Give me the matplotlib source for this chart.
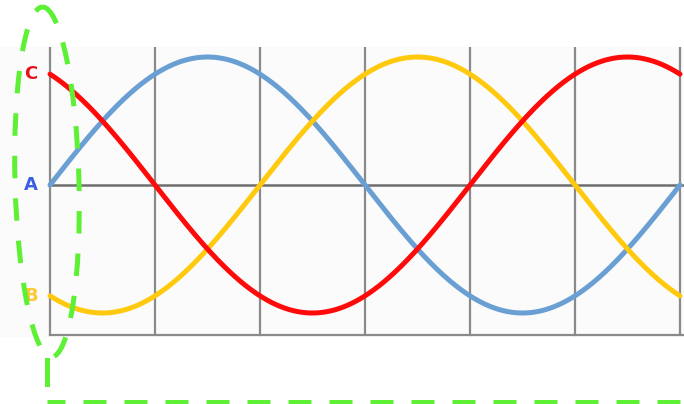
import numpy as np
import matplotlib
matplotlib.use("Agg")
import matplotlib.pyplot as plt
from matplotlib.patches import Ellipse

# phase names, phase offsets (degrees) and colours of the three waves
phases = ["A", "B", "C"]
offsets = [0, -120, 120]
colors = ["#6a9fd4", "#ffc90e", "#ff0a0a"]
label_colors = ["#3b5fe0", "#ffc830", "#e8101a"]
grid_deg = [0, 60, 120, 180, 240, 300, 360]

W, H = 684, 404
fig = plt.figure(figsize=(W / 100, H / 100), dpi=100)

# main plot: spans full width, x=50px -> 0 deg, 105px per 60 deg
x0_px, px_per_deg = 50, 105 / 60
ax_top, ax_bot = 47, 337
ax = fig.add_axes([0, 1 - ax_bot / H, 1, (ax_bot - ax_top) / H])
ax.set_facecolor("#fbfbfb")
ax.set_xlim(-x0_px / px_per_deg, (W - x0_px) / px_per_deg)
amp = 128
ax.set_ylim(-(ax_bot - 185) / amp, (185 - ax_top) / amp)
for s in ax.spines.values():
    s.set_visible(False)
ax.set_xticks([])
ax.set_yticks([])

ybot = -(335 - 185) / amp
for g in grid_deg:
    ax.plot([g, g], [ybot, 2], color="#8a8a8a", lw=1.6, zorder=1)
ax.plot([0, 400], [0, 0], color="#6e6e6e", lw=1.8, zorder=1)
ax.plot([0, 400], [ybot, ybot], color="#8a8a8a", lw=1.6, zorder=1)

theta = np.linspace(0, 360, 721)
for name, off, c in zip(phases, offsets, colors):
    ax.plot(theta, np.sin(np.radians(theta + off)), color=c, lw=3.6,
            solid_capstyle="round", zorder=3)

for name, off, lc in zip(phases, offsets, label_colors):
    ax.text(-11, np.sin(np.radians(off)), name, color=lc, fontsize=13,
            fontweight="bold", ha="center", va="center")

# green dashed highlight overlay in pixel coordinates
ov = fig.add_axes([0, 0, 1, 1], facecolor="none")
ov.set_xlim(0, W)
ov.set_ylim(H, 0)
ov.axis("off")
green = "#5ef034"
ov.add_patch(Ellipse((47, 182), 64, 350, angle=-1.5, fill=False,
                     edgecolor=green, lw=3.6, linestyle=(0, (4.5, 4.0))))
ov.plot([47, 47], [360, 384], color=green, lw=3.6)
ov.plot([47, W], [402, 402], color=green, lw=3.6,
        linestyle=(1, (4.6, 3.6)))

fig.savefig("out.png", dpi=100)
